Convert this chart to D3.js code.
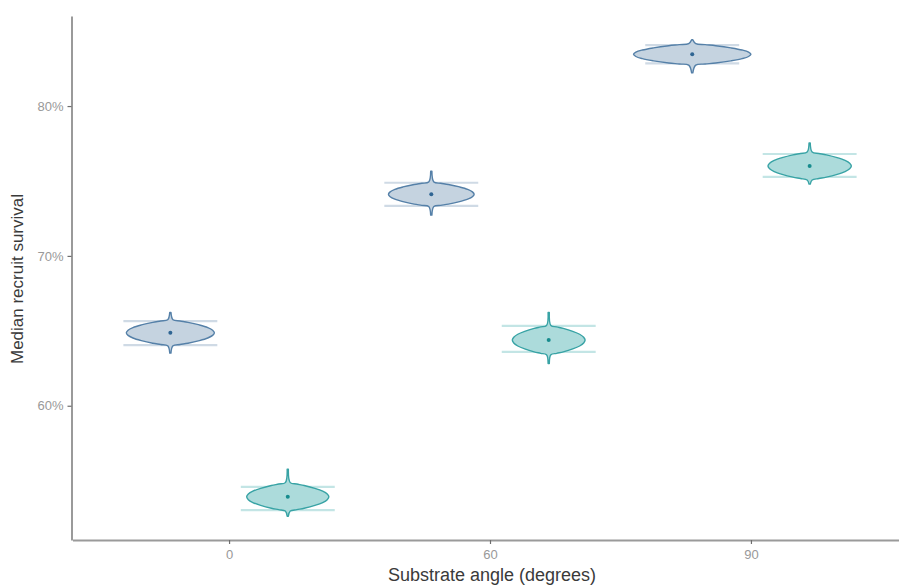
<!DOCTYPE html>
<html>
<head>
<meta charset="utf-8">
<script src="https://cdn.jsdelivr.net/npm/d3@7"></script>
<style>
  html, body { margin: 0; padding: 0; background: #fff; }
  svg { display: block; font-family: "Liberation Sans", Arial, sans-serif; }
</style>
</head>
<body>
<svg id="chart" width="899" height="585"></svg>
<script>
// Substrate angle categories (x axis)
const angles = ["0", "60", "90"];
const yTicks = [60, 70, 80];

// Posterior summaries of median recruit survival (%), one value per angle
// Series A (blue)
const medianA = [64.87, 74.11, 83.45];
const ciLowA  = [64.05, 73.34, 82.85];
const ciHighA = [65.65, 74.88, 84.07];
const minA    = [63.51, 72.72, 82.22];
const maxA    = [66.23, 75.66, 84.42];
const spreadA = [0.87, 0.82, 0.72];   // half-height of the density body, % points
const peakA   = [0.75, 0.73, 1.00];   // relative peak density

// Series B (teal)
const medianB = [53.92, 64.38, 76.00];
const ciLowB  = [53.03, 63.60, 75.28];
const ciHighB = [54.59, 65.33, 76.80];
const minB    = [52.63, 62.82, 74.79];
const maxB    = [55.77, 66.23, 77.53];
const spreadB = [0.95, 0.98, 0.93];
const peakB   = [0.70, 0.62, 0.71];

// Shared density profile: relative width at fractions of the body half-height
const profileT = [0, 0.2, 0.4, 0.6, 0.8, 0.9, 1.0];
const profileW = [1, 0.96, 0.85, 0.66, 0.40, 0.22, 0.06];

const series = [
  { key: "A", dodge: -1, median: medianA, lo: ciLowA, hi: ciHighA, min: minA, max: maxA, spread: spreadA, peak: peakA,
    stroke: "#5580a8", fill: "#c5d3e0", dot: "#2f6593", cap: "#cfdae5" },
  { key: "B", dodge: 1, median: medianB, lo: ciLowB, hi: ciHighB, min: minB, max: maxB, spread: spreadB, peak: peakB,
    stroke: "#38a3a5", fill: "#acdbdb", dot: "#178c8e", cap: "#c3e5e5" }
];

const svg = d3.select("#chart");
const W = 899, H = 585;
const panel = { left: 72.5, right: 907.5, top: 16, bottom: 540 };

const x = d3.scalePoint().domain(angles).range([panel.left, panel.right]).padding(0.6);
const step = x.step();
const dodgeOff = 0.225 * step;
const maxHalf = 0.225 * step;
const capHalf = 0.18 * step;

const allMin = d3.min(series.flatMap(s => s.min));
const allMax = d3.max(series.flatMap(s => s.max));
const pad = 0.05 * (allMax - allMin);
const y = d3.scaleLinear().domain([allMin - pad, allMax + pad]).range([panel.bottom, panel.top]);

const plot = svg.append("g");

// Credible-interval caps
series.forEach(s => {
  angles.forEach((a, i) => {
    const cx = x(a) + s.dodge * dodgeOff;
    [s.lo[i], s.hi[i]].forEach(v => {
      plot.append("line")
        .attr("x1", cx - capHalf).attr("x2", cx + capHalf)
        .attr("y1", y(v)).attr("y2", y(v))
        .attr("stroke", s.cap).attr("stroke-width", 2.2);
    });
  });
});

// Violins
const area = d3.area()
  .y(d => y(d.v))
  .x0(d => d.cx - d.w)
  .x1(d => d.cx + d.w)
  .curve(d3.curveCatmullRom);

series.forEach(s => {
  angles.forEach((a, i) => {
    const cx = x(a) + s.dodge * dodgeOff;
    const m = s.median[i], sp = s.spread[i], pk = s.peak[i] * maxHalf;
    const pts = [];
    pts.push({ v: s.max[i], w: 0.6, cx });
    for (let k = profileT.length - 1; k >= 0; k--) {
      pts.push({ v: m + profileT[k] * sp, w: Math.max(profileW[k] * pk, 1), cx });
    }
    for (let k = 1; k < profileT.length; k++) {
      pts.push({ v: m - profileT[k] * sp, w: Math.max(profileW[k] * pk, 1), cx });
    }
    pts.push({ v: s.min[i], w: 0.6, cx });
    plot.append("path")
      .attr("d", area(pts))
      .attr("fill", s.fill)
      .attr("stroke", s.stroke)
      .attr("stroke-width", 1.4)
      .attr("stroke-linejoin", "round");
    plot.append("circle")
      .attr("cx", cx).attr("cy", y(m)).attr("r", 2)
      .attr("fill", s.dot);
  });
});

// Axes
const axisColor = "#9a9a9a";
const yAxis = svg.append("g")
  .attr("transform", `translate(${panel.left - 1},0)`)
  .call(d3.axisLeft(y).tickValues(yTicks).tickFormat(d => d + "%").tickSize(4).tickSizeOuter(0).tickPadding(4));
const xAxis = svg.append("g")
  .attr("transform", `translate(0,${panel.bottom})`)
  .call(d3.axisBottom(x).tickSize(4).tickSizeOuter(0).tickPadding(6));

[yAxis, xAxis].forEach(g => {
  g.select(".domain").attr("stroke", axisColor).attr("stroke-width", 2);
  g.selectAll(".tick line").attr("stroke", "#6e6e6e").attr("stroke-width", 1.2);
  g.selectAll(".tick text").attr("fill", "#999").attr("font-size", 13)
    .attr("font-family", "Liberation Sans, Arial, sans-serif");
});

// Axis titles
svg.append("text")
  .attr("x", (panel.left + panel.right) / 2 + 2)
  .attr("y", 581)
  .attr("text-anchor", "middle")
  .attr("font-size", 18)
  .attr("fill", "#3a3a3a")
  .text("Substrate angle (degrees)");

svg.append("text")
  .attr("transform", `translate(23,${(panel.top + panel.bottom) / 2 + 1}) rotate(-90)`)
  .attr("text-anchor", "middle")
  .attr("font-size", 17)
  .attr("fill", "#3a3a3a")
  .text("Median recruit survival");
</script>
</body>
</html>
